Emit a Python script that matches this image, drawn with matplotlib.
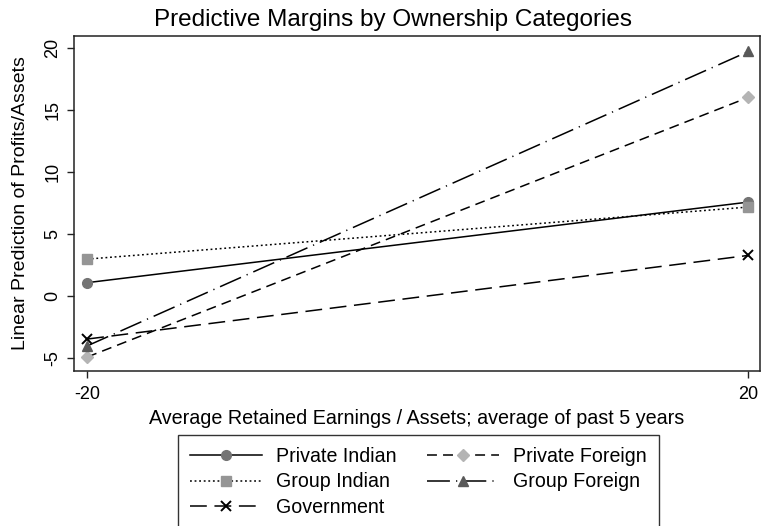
import matplotlib.pyplot as plt

plt.rcParams["font.family"] = ["Liberation Sans", "DejaVu Sans"]
plt.rcParams["axes.unicode_minus"] = False

# x positions (average retained earnings / assets)
x_vals = [-20, 20]

# predicted margins per ownership category
private_indian = [1.1, 7.6]
group_indian = [3.0, 7.2]
government = [-3.45, 3.3]
private_foreign = [-4.9, 16.05]
group_foreign = [-4.0, 19.75]

y_ticks = [-5, 0, 5, 10, 15, 20]
x_ticks = [-20, 20]

fig = plt.figure(figsize=(7.61, 5.26), dpi=100)
ax = fig.add_axes([0.0972, 0.2953, 0.9015, 0.6363])

lw = 1.1
ax.plot(x_vals, private_indian, color="black", lw=lw, ls="-",
        marker="o", ms=7, mfc="#747474", mec="#747474", label="Private Indian")
ax.plot(x_vals, group_indian, color="black", lw=lw, ls=(0, (1.2, 1.8)),
        marker="s", ms=7, mfc="#959595", mec="#959595", label="Group Indian")
ax.plot(x_vals, government, color="black", lw=lw, ls=(0, (11, 5)),
        marker="x", ms=6.5, mec="black", mew=1.4, label="Government")
ax.plot(x_vals, private_foreign, color="black", lw=lw, ls=(0, (6.5, 4)),
        marker="D", ms=6.5, mfc="#b4b4b4", mec="#b4b4b4", label="Private Foreign")
ax.plot(x_vals, group_foreign, color="black", lw=lw, ls=(0, (15, 4, 0.8, 4)),
        marker="^", ms=7.5, mfc="#595959", mec="#595959", label="Group Foreign")

ax.set_xlim(-20.8, 20.7)
ax.set_ylim(-6, 21)
ax.set_xticks(x_ticks)
ax.set_yticks(y_ticks)
ax.tick_params(axis="both", direction="out", length=5, width=1, labelsize=13,
               color="#222222")
ax.tick_params(axis="y", labelrotation=90, pad=4)
for lab in ax.get_yticklabels():
    lab.set_va("center")
ax.tick_params(axis="x", pad=6)

for sp in ax.spines.values():
    sp.set_linewidth(1.1)
    sp.set_color("#222222")

# title sits a bit left of the plot centre in the original
fig.text(393 / 761, 1 - 20 / 526, "Predictive Margins by Ownership Categories",
         fontsize=17.5, ha="center", va="center")
ax.set_xlabel("Average Retained Earnings / Assets; average of past 5 years",
              fontsize=14.2, labelpad=4)
ax.set_ylabel("Linear Prediction of Profits/Assets", fontsize=14, labelpad=11)

leg = fig.legend(loc="upper left", bbox_to_anchor=(178 / 761, 1 - 435 / 526),
                 ncol=2, fontsize=14.1, frameon=True, fancybox=False,
                 handlelength=3.7, handletextpad=0.7, columnspacing=1.55,
                 labelspacing=0.34, borderpad=0.6, borderaxespad=0)
leg.get_frame().set_edgecolor("black")
leg.get_frame().set_linewidth(1.0)

fig.savefig("out.png", dpi=100)
